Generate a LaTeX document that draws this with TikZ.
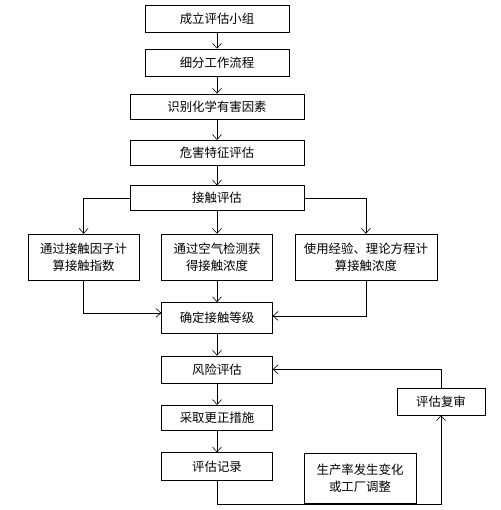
\documentclass[tikz,border=0pt]{standalone}
\usepackage{fontspec}
\setmainfont{Noto Sans CJK SC}
\usetikzlibrary{arrows.meta, positioning}

\begin{document}
\begin{tikzpicture}[
    x=1pt, y=1pt,
    block/.style={draw, font=\fontsize{12.4}{17}\selectfont, align=center,
        minimum width=144pt, minimum height=27pt, inner sep=2pt},
    wide/.style={block, minimum width=174pt, minimum height=25pt},
    sub/.style={block, minimum width=111pt, minimum height=46pt},
    arr/.style={-{Straight Barb[length=5pt, width=9pt]}, semithick},
    node distance=22pt
]
    \useasboundingbox (0,0) rectangle (500,-510);
    \node[block] (team) at (217,-18.5) {成立评估小组};
    \node[block, below=16.5pt of team] (flow) {细分工作流程};
    \node[wide, below=17.5pt of flow] (ident) {识别化学有害因素};
    \node[wide, below=21pt of ident] (hazard) {危害特征评估};
    \node[wide, below=20pt of hazard] (expo) {接触评估};
    \node[sub, below=23pt of expo] (air) {通过空气检测获\\得接触浓度};
    \node[sub, left=22pt of air] (factor) {通过接触因子计\\算接触指数};
    \node[sub, minimum width=142pt, right=22pt of air] (theory) {使用经验、理论方程计\\算接触浓度};
    \node[sub, minimum height=31pt, below=of air] (grade) {确定接触等级};
    \node[sub, minimum height=27pt, below=of grade] (risk) {风险评估};
    \node[sub, minimum height=25pt, below=of risk] (fix) {采取更正措施};
    \node[sub, minimum height=28pt, below=of fix] (rec) {评估记录};
    \node[block, minimum width=88pt] (review) at (441,-401.5) {评估复审};
    \node[block, minimum width=112pt, minimum height=50pt] (change) at (360,-478) {生产率发生变化\\或工厂调整};
    \coordinate (base) at (441,-504);

    \draw[arr] (team) -- (flow);
    \draw[arr] (flow) -- (ident);
    \draw[arr] (ident) -- (hazard);
    \draw[arr] (hazard) -- (expo);
    \draw[arr] (expo.west) -| (factor.north);
    \draw[arr] (expo) -- (air);
    \draw[arr] (expo.east) -| (theory.north);
    \draw[arr] (factor.south) |- ([yshift=5pt]grade.west);
    \draw[arr] (air) -- (grade);
    \draw[arr] (theory.south) |- ([yshift=2pt]grade.east);
    \draw[arr] (grade) -- (risk);
    \draw[arr] (risk) -- (fix);
    \draw[arr] (fix) -- (rec);
    \draw[arr] (rec.south) |- (base) -- (review.south);
    \draw[arr] (review.north) |- (risk.east);
\end{tikzpicture}
\end{document}
